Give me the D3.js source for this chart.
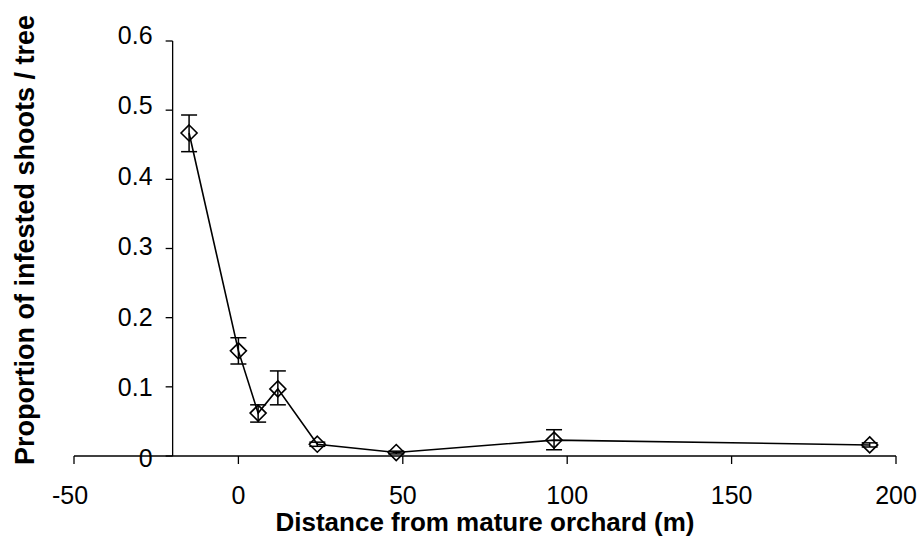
<!DOCTYPE html>
<html>
<head>
<meta charset="utf-8">
<script src="https://cdn.jsdelivr.net/npm/d3@7"></script>
<style>
  html, body { margin: 0; padding: 0; background: #fff; }
  svg { display: block; }
  text { font-family: "Liberation Sans", Arial, sans-serif; fill: #000; }
</style>
</head>
<body>
<svg id="chart" width="922" height="558"></svg>
<script>
// Data
const distances = [-15, 0, 6, 12, 24, 48, 96, 192];
const proportions = [0.467, 0.152, 0.062, 0.097, 0.017, 0.005, 0.023, 0.016];
const errLow = [0.440, 0.133, 0.049, 0.074, 0.014, 0.003, 0.009, 0.013];
const errHigh = [0.493, 0.171, 0.074, 0.123, 0.020, 0.007, 0.038, 0.019];
const xTicks = [-50, 0, 50, 100, 150, 200];
const yTicks = [0, 0.1, 0.2, 0.3, 0.4, 0.5, 0.6];
const xTitle = "Distance from mature orchard (m)";
const yTitle = "Proportion of infested shoots / tree";
const yAxisCrossAt = -20;

const svg = d3.select("#chart");
const x = d3.scaleLinear().domain([-50, 200]).range([74, 896]);
const y = d3.scaleLinear().domain([0, 0.6]).range([456, 41]);
const yLabel = d3.scaleLinear().domain([0, 0.6]).range([458, 35]);

const data = distances.map((d, i) => ({ x: d, y: proportions[i], lo: errLow[i], hi: errHigh[i] }));

// X axis (at y = 0)
svg.append("line")
  .attr("x1", x(-50)).attr("x2", x(200))
  .attr("y1", y(0)).attr("y2", y(0))
  .attr("stroke", "#000").attr("stroke-width", 1.3);
svg.selectAll(".xtick").data(xTicks).enter().append("line")
  .attr("x1", d => x(d)).attr("x2", d => x(d))
  .attr("y1", y(0)).attr("y2", y(0) + 8)
  .attr("stroke", "#000").attr("stroke-width", 1.3);
svg.selectAll(".xlabel").data(xTicks).enter().append("text")
  .attr("x", d => x(d) - (d < 0 ? 4 : 0))
  .attr("y", 495)
  .attr("dy", "0.35em")
  .attr("text-anchor", "middle")
  .attr("font-size", 25)
  .text(d => d);

// Y axis (crosses at x = -20)
svg.append("line")
  .attr("x1", x(yAxisCrossAt)).attr("x2", x(yAxisCrossAt))
  .attr("y1", y(0)).attr("y2", y(0.6))
  .attr("stroke", "#000").attr("stroke-width", 1.3);
svg.selectAll(".ytick").data(yTicks).enter().append("line")
  .attr("x1", x(yAxisCrossAt) - 7).attr("x2", x(yAxisCrossAt))
  .attr("y1", d => y(d)).attr("y2", d => y(d))
  .attr("stroke", "#000").attr("stroke-width", 1.3);
svg.selectAll(".ylabel").data(yTicks).enter().append("text")
  .attr("x", x(yAxisCrossAt) - 20)
  .attr("y", d => yLabel(d))
  .attr("dy", "0.35em")
  .attr("text-anchor", "end")
  .attr("font-size", 25)
  .text(d => d === 0 ? "0" : d3.format(".1f")(d));

// Titles
svg.append("text")
  .attr("x", 485).attr("y", 522)
  .attr("dy", "0.35em")
  .attr("text-anchor", "middle")
  .attr("font-size", 26).attr("font-weight", "bold")
  .text(xTitle);
svg.append("text")
  .attr("transform", "translate(25,240) rotate(-90)")
  .attr("dy", "0.35em")
  .attr("text-anchor", "middle")
  .attr("font-size", 27).attr("font-weight", "bold")
  .text(yTitle);

// Line
svg.append("path")
  .datum(data)
  .attr("fill", "none")
  .attr("stroke", "#000")
  .attr("stroke-width", 1.6)
  .attr("d", d3.line().x(d => x(d.x)).y(d => y(d.y)));

// Error bars
const eb = svg.append("g").attr("stroke", "#000").attr("stroke-width", 1.5);
eb.selectAll(".ev").data(data).enter().append("line")
  .attr("x1", d => x(d.x)).attr("x2", d => x(d.x))
  .attr("y1", d => y(d.lo)).attr("y2", d => y(d.hi));
eb.selectAll(".ct").data(data).enter().append("line")
  .attr("x1", d => x(d.x) - 8).attr("x2", d => x(d.x) + 8)
  .attr("y1", d => y(d.hi)).attr("y2", d => y(d.hi));
eb.selectAll(".cb").data(data).enter().append("line")
  .attr("x1", d => x(d.x) - 8).attr("x2", d => x(d.x) + 8)
  .attr("y1", d => y(d.lo)).attr("y2", d => y(d.lo));

// Diamond markers
const r = 8;
svg.selectAll(".marker").data(data).enter().append("path")
  .attr("fill", "none")
  .attr("stroke", "#000")
  .attr("stroke-width", 1.6)
  .attr("d", d => {
    const cx = x(d.x), cy = y(d.y);
    return `M${cx},${cy - r}L${cx + r},${cy}L${cx},${cy + r}L${cx - r},${cy}Z`;
  });
</script>
</body>
</html>
